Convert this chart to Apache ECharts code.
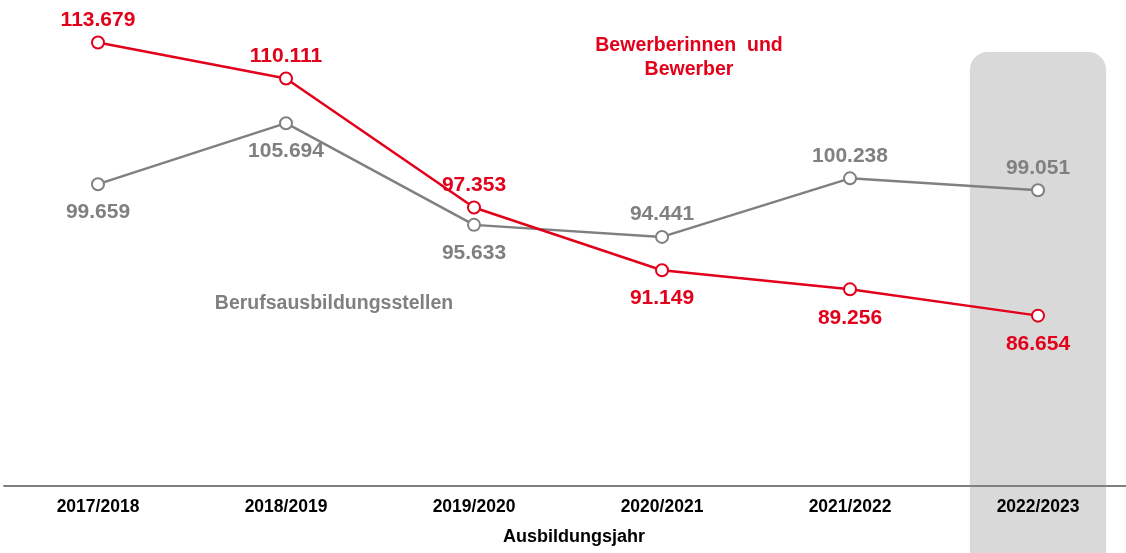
<!DOCTYPE html>
<html>
<head>
<meta charset="utf-8">
<script src="https://cdn.jsdelivr.net/npm/echarts@6/dist/echarts.min.js"></script>
<style>
html,body{margin:0;padding:0;background:#fff;overflow:hidden;width:1126px;height:553px;}
#c{width:1140px;height:553px;}
</style>
</head>
<body>
<div id="c"></div>
<script>
const categories = ['2017/2018','2018/2019','2019/2020','2020/2021','2021/2022','2022/2023'];
const bewerber = [113.679, 110.111, 97.353, 91.149, 89.256, 86.654];
const stellen  = [99.659, 105.694, 95.633, 94.441, 100.238, 99.051];
const bewerberLabelPos = ['top','top','top','bottom','bottom','bottom'];
const stellenLabelPos  = ['bottom','bottom','bottom','top','top','top'];
const highlightCategory = '2022/2023';

const RED = '#e2001a';
const GRAY = '#808080';
const FONT = '"Liberation Sans", Arial, sans-serif';

function fmt(v){ return v.toFixed(3); }

function buildData(vals, pos){
  return vals.map((v,i)=>({
    value: v,
    label: { position: pos[i], distance: pos[i]==='top' ? 5 : 11 }
  }));
}

const chart = echarts.init(document.getElementById('c'), null, {renderer:'canvas', width:1140, height:553});
const option = {
  animation: false,
  backgroundColor: '#fff',
  grid: { left: 4, top: 19, width: 1128, height: 467, containLabel: false },
  xAxis: {
    type: 'category',
    data: categories,
    boundaryGap: true,
    axisLine: { show: true, lineStyle: { color: GRAY, width: 2 } },
    axisTick: { show: false },
    axisLabel: { color: '#000', fontFamily: FONT, fontWeight: 'bold', fontSize: 17.5, margin: 12 },
    name: 'Ausbildungsjahr',
    nameLocation: 'middle',
    nameGap: 42,
    nameTextStyle: { color: '#000', fontFamily: FONT, fontWeight: 'bold', fontSize: 18, padding: [0,0,0,12] },
    z: 5
  },
  yAxis: {
    type: 'value',
    min: 69.8,
    max: 116,
    show: false,
    splitLine: { show: false }
  },
  series: [
    {
      name: 'Berufsausbildungsstellen',
      type: 'line',
      data: buildData(stellen, stellenLabelPos),
      symbol: 'emptyCircle',
      symbolSize: 12,
      lineStyle: { color: GRAY, width: 2.5 },
      itemStyle: { color: GRAY, borderColor: GRAY, borderWidth: 2.5 },
      label: { show: true, color: GRAY, fontFamily: FONT, fontWeight: 'bold', fontSize: 21, formatter: p => fmt(p.value) },
      z: 3
    },
    {
      name: 'Bewerberinnen und Bewerber',
      type: 'line',
      data: buildData(bewerber, bewerberLabelPos),
      symbol: 'emptyCircle',
      symbolSize: 12,
      lineStyle: { color: RED, width: 2.5 },
      itemStyle: { color: RED, borderColor: RED, borderWidth: 2.5 },
      label: { show: true, color: RED, fontFamily: FONT, fontWeight: 'bold', fontSize: 21, formatter: p => fmt(p.value) },
      z: 4
    }
  ]
};
chart.setOption(option);

// highlight band behind the last category, derived from the axis scale
const xc = chart.convertToPixel({xAxisIndex:0}, highlightCategory);
const bw = chart.convertToPixel({xAxisIndex:0}, categories[1]) - chart.convertToPixel({xAxisIndex:0}, categories[0]);
const w = bw * 0.725;
chart.setOption({
  graphic: [
    {
      type: 'rect',
      z: -100,
      silent: true,
      shape: { x: xc - w/2, y: 52, width: w, height: 520, r: 18 },
      style: { fill: '#d9d9d9' }
    },
    {
      type: 'text',
      z: 10,
      silent: true,
      style: { text: 'Bewerberinnen  und\nBewerber', x: 689, y: 34, align: 'center', verticalAlign: 'top', fill: RED,
               font: 'bold 19.5px ' + FONT, lineHeight: 24 }
    },
    {
      type: 'text',
      z: 10,
      silent: true,
      style: { text: 'Berufsausbildungsstellen', x: 334, y: 304, align: 'center', verticalAlign: 'middle', fill: GRAY, font: 'bold 19.5px ' + FONT }
    }
  ]
});
</script>
</body>
</html>
